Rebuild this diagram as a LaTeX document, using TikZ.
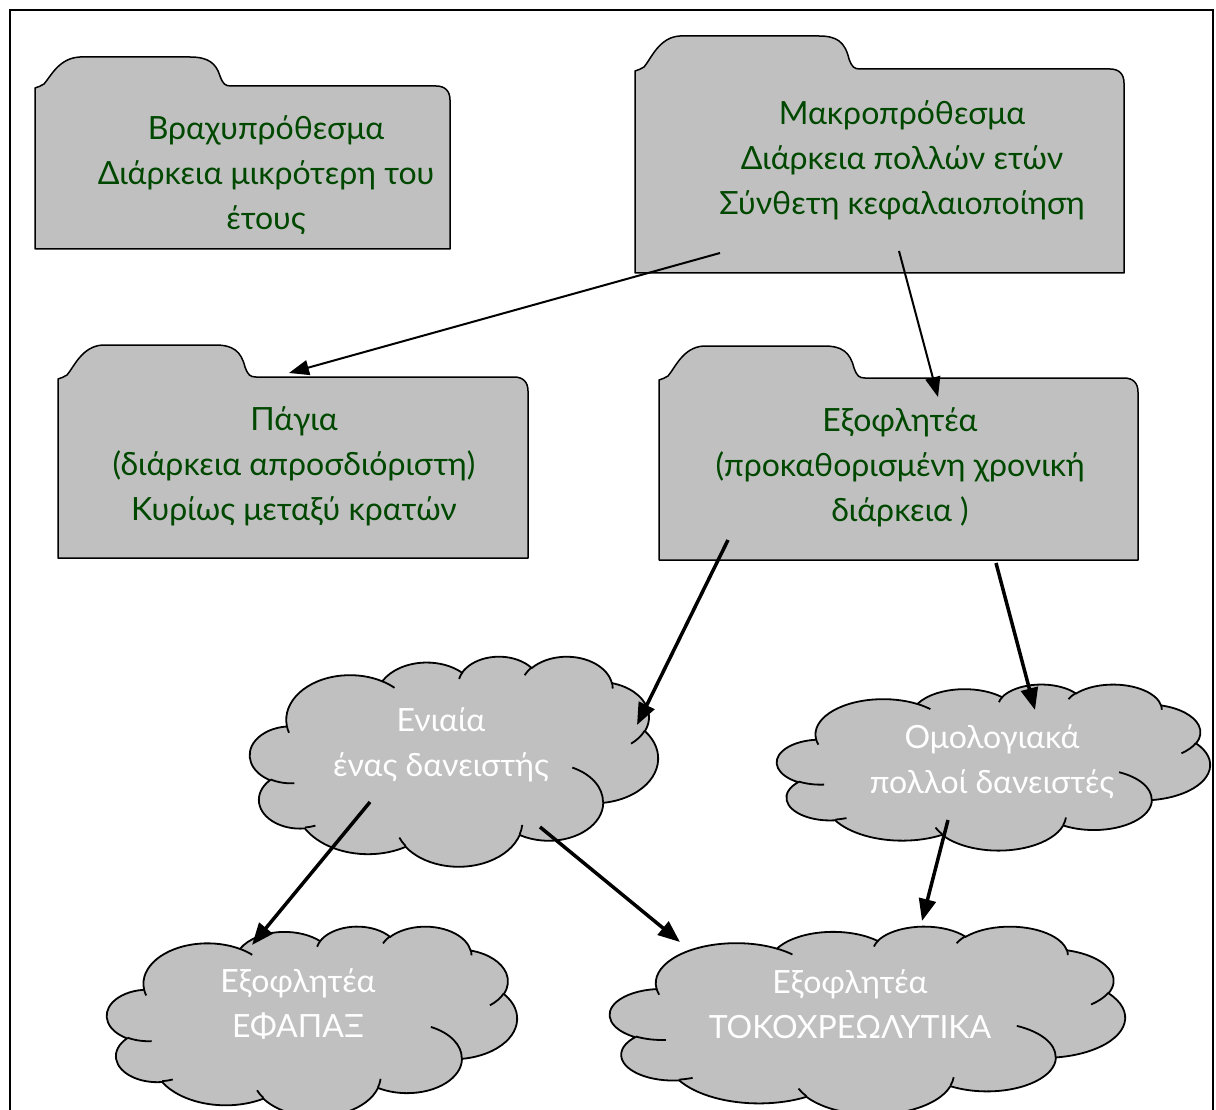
\documentclass[tikz,border=0pt]{standalone}
\usepackage{fontspec}
\setmainfont{Lato}
\usetikzlibrary{arrows.meta}

\definecolor{shapegray}{RGB}{192,192,192}
\definecolor{textgreen}{RGB}{0,72,0}

\tikzset{
  folderbox/.style={fill=shapegray, draw=black, line width=1.5pt, line join=round},
  cloudbody/.style={fill=shapegray, draw=black, line width=1.8pt},
  cloudfold/.style={draw=black, line width=1.8pt},
  labeltext/.style={align=center, inner sep=0pt, font=\fontsize{32}{45}\selectfont},
  foldertext/.style={labeltext, text=textgreen},
  cloudtext/.style={labeltext, text=white},
  thinarrow/.style={draw=black, line width=2pt, -{Triangle[length=20pt,width=15pt]}},
  thickarrow/.style={draw=black, line width=3.5pt, -{Triangle[length=22pt,width=17pt]}},
  frame/.style={draw=black, line width=2pt},
}

% elliptical arc given by radii, visual start angle and sweep (y pointing down)
\newcommand\carc[4]{arc[x radius=#1, y radius=#2, start angle={pa(#3,#1,#2)}, delta angle={dpa(#3,#4,#1,#2)}]}

% folder: left, tab top, body top, right, bottom, tab end
\newcommand\folder[6]{%
  \path[folderbox] (#1,#5) -- (#1,#3+2)
    .. controls (#1+3,#3+1) and (#1+6,#3) .. (#1+9,#3-2)
    .. controls (#1+16,#3-10) and (#1+24,#2+1) .. (#1+45,#2)
    -- (#6-38,#2)
    .. controls (#6-20,#2) and (#6-12,#2+6) .. (#6-8,#3-10)
    .. controls (#6-5,#3-2) and (#6-3,#3) .. (#6+3,#3)
    -- (#4-14,#3)
    .. controls (#4-5,#3) and (#4,#3+5) .. (#4,#3+14)
    -- (#4,#5) -- cycle;
}

% cloud: left, top, width, height
\newcommand\cloud[4]{%
  \pgfmathsetmacro\cxs{#3/43.2}%
  \pgfmathsetmacro\cys{#4/43.2}%
  \begin{scope}[shift={(#1,#2)}, xscale=\cxs, yscale=\cys]
    \path[cloudbody] (3.9,14.37)
      \carc{6.753}{9.19}{-190.48748}{123.78053}
      \carc{5.333}{7.267}{-144.10238}{89.94523}
      \carc{4.365}{5.945}{-145.80792}{99.72302}
      \carc{4.857}{6.595}{-130.98607}{117.24173}
      \carc{5.333}{7.273}{-78.70888}{109.02692}
      \carc{6.775}{9.22}{-46.26725}{130.269}
      \carc{5.785}{7.867}{0.62502}{114.03333}
      \carc{6.752}{9.215}{22.4516}{115.17255}
      \carc{7.72}{10.543}{66.24263}{75.71102}
      \carc{4.36}{5.918}{-274.94208}{146.73557}
      \carc{4.345}{5.945}{-246.8285}{152.51885}
      -- cycle;
    \path[cloudfold]
      (4.693,26.177) \carc{4.345}{5.945}{86.742}{26.4295}
      (6.928,34.899) \carc{4.36}{5.918}{73.61047}{11.44747}
      (16.478,39.09) \carc{6.752}{9.215}{137.62415}{14.0811}
      (28.827,34.751) \carc{6.752}{9.215}{6.45327}{15.99835}
      (34.129,22.954) \carc{5.785}{7.867}{-70.29235}{70.91737}
      (41.798,15.354) \carc{5.333}{7.273}{30.31803}{27.7515}
      (38.324,5.426) \carc{4.857}{6.595}{-13.74433}{14.86223}
      (29.078,3.952) \carc{4.857}{6.595}{-149.18145}{18.19537}
      (22.141,4.72) \carc{4.365}{5.945}{-163.49427}{17.68635}
      (14.0,5.192) \carc{6.753}{9.19}{-66.70695}{12.31935}
      (4.127,15.789) \carc{6.753}{9.19}{157.65435}{11.85817};
  \end{scope}
}

\begin{document}
\begin{tikzpicture}[x=1pt, y=-1pt,
  declare function={
    pa(\a,\w,\h)=atan2(\w*sin(\a),\h*cos(\a));
    dpa(\a,\s,\w,\h)=mod(pa(\a+\s,\w,\h)-pa(\a,\w,\h)+720,360);
  }]
  \clip (0,0) rectangle (1216,1110);
  \fill[white] (0,0) rectangle (1216,1110);
  \draw[frame] (10,10) rectangle (1213,1150);

  % folders
  \folder{35}{57}{86}{450}{249}{228}
  \folder{635}{36}{69}{1124}{273}{857}
  \folder{58}{345}{377}{528}{558}{253}
  \folder{659}{346}{378}{1138}{560}{862}

  % clouds
  \cloud{250}{656}{408}{210}
  \cloud{777}{684}{433}{166}
  \cloud{107}{926}{410}{190}
  \cloud{610}{926}{515}{188}

  % texts
  \node[foldertext] (short) at (266,175) {Βραχυπρόθεσμα\\Διάρκεια μικρότερη του\\έτους};
  \node[foldertext] (long) at (902,160) {Μακροπρόθεσμα\\Διάρκεια πολλών ετών\\Σύνθετη κεφαλαιοποίηση};
  \node[foldertext] (perpetual) at (294,466) {Πάγια\\(διάρκεια απροσδιόριστη)\\Κυρίως μεταξύ κρατών};
  \node[foldertext] (redeemable) at (900,467) {Εξοφλητέα\\(προκαθορισμένη χρονική\\διάρκεια )};
  \node[cloudtext] (single) at (441,745) {Ενιαία\\ένας δανειστής};
  \node[cloudtext] (bonds) at (992,762) {Ομολογιακά\\πολλοί δανειστές};
  \node[cloudtext] (bullet) at (298,1004) {Εξοφλητέα\\ΕΦΑΠΑΞ};
  \node[cloudtext] (amort) at (850,1004) {Εξοφλητέα\\ΤΟΚΟΧΡΕΩΛΥΤΙΚΑ};

  % connector ends
  \coordinate (long-a) at (720,253);
  \coordinate (long-b) at (899,251);
  \coordinate (perpetual-in) at (289,373);
  \coordinate (redeemable-in) at (938,397);
  \coordinate (redeemable-a) at (728,540);
  \coordinate (redeemable-b) at (996,563);
  \coordinate (single-in) at (637,725);
  \coordinate (bonds-in) at (1035,710);
  \coordinate (single-a) at (370,802);
  \coordinate (single-b) at (540,827);
  \coordinate (bonds-a) at (948,820);
  \coordinate (bullet-in) at (252,945);
  \coordinate (amort-in) at (680,942);
  \coordinate (amort-top) at (922,921);

  % connectors
  \draw[thinarrow] (long-a) -- (perpetual-in);
  \draw[thinarrow] (long-b) -- (redeemable-in);
  \draw[thickarrow] (redeemable-a) -- (single-in);
  \draw[thickarrow] (redeemable-b) -- (bonds-in);
  \draw[thickarrow] (single-a) -- (bullet-in);
  \draw[thickarrow] (single-b) -- (amort-in);
  \draw[thickarrow] (bonds-a) -- (amort-top);
\end{tikzpicture}
\end{document}
